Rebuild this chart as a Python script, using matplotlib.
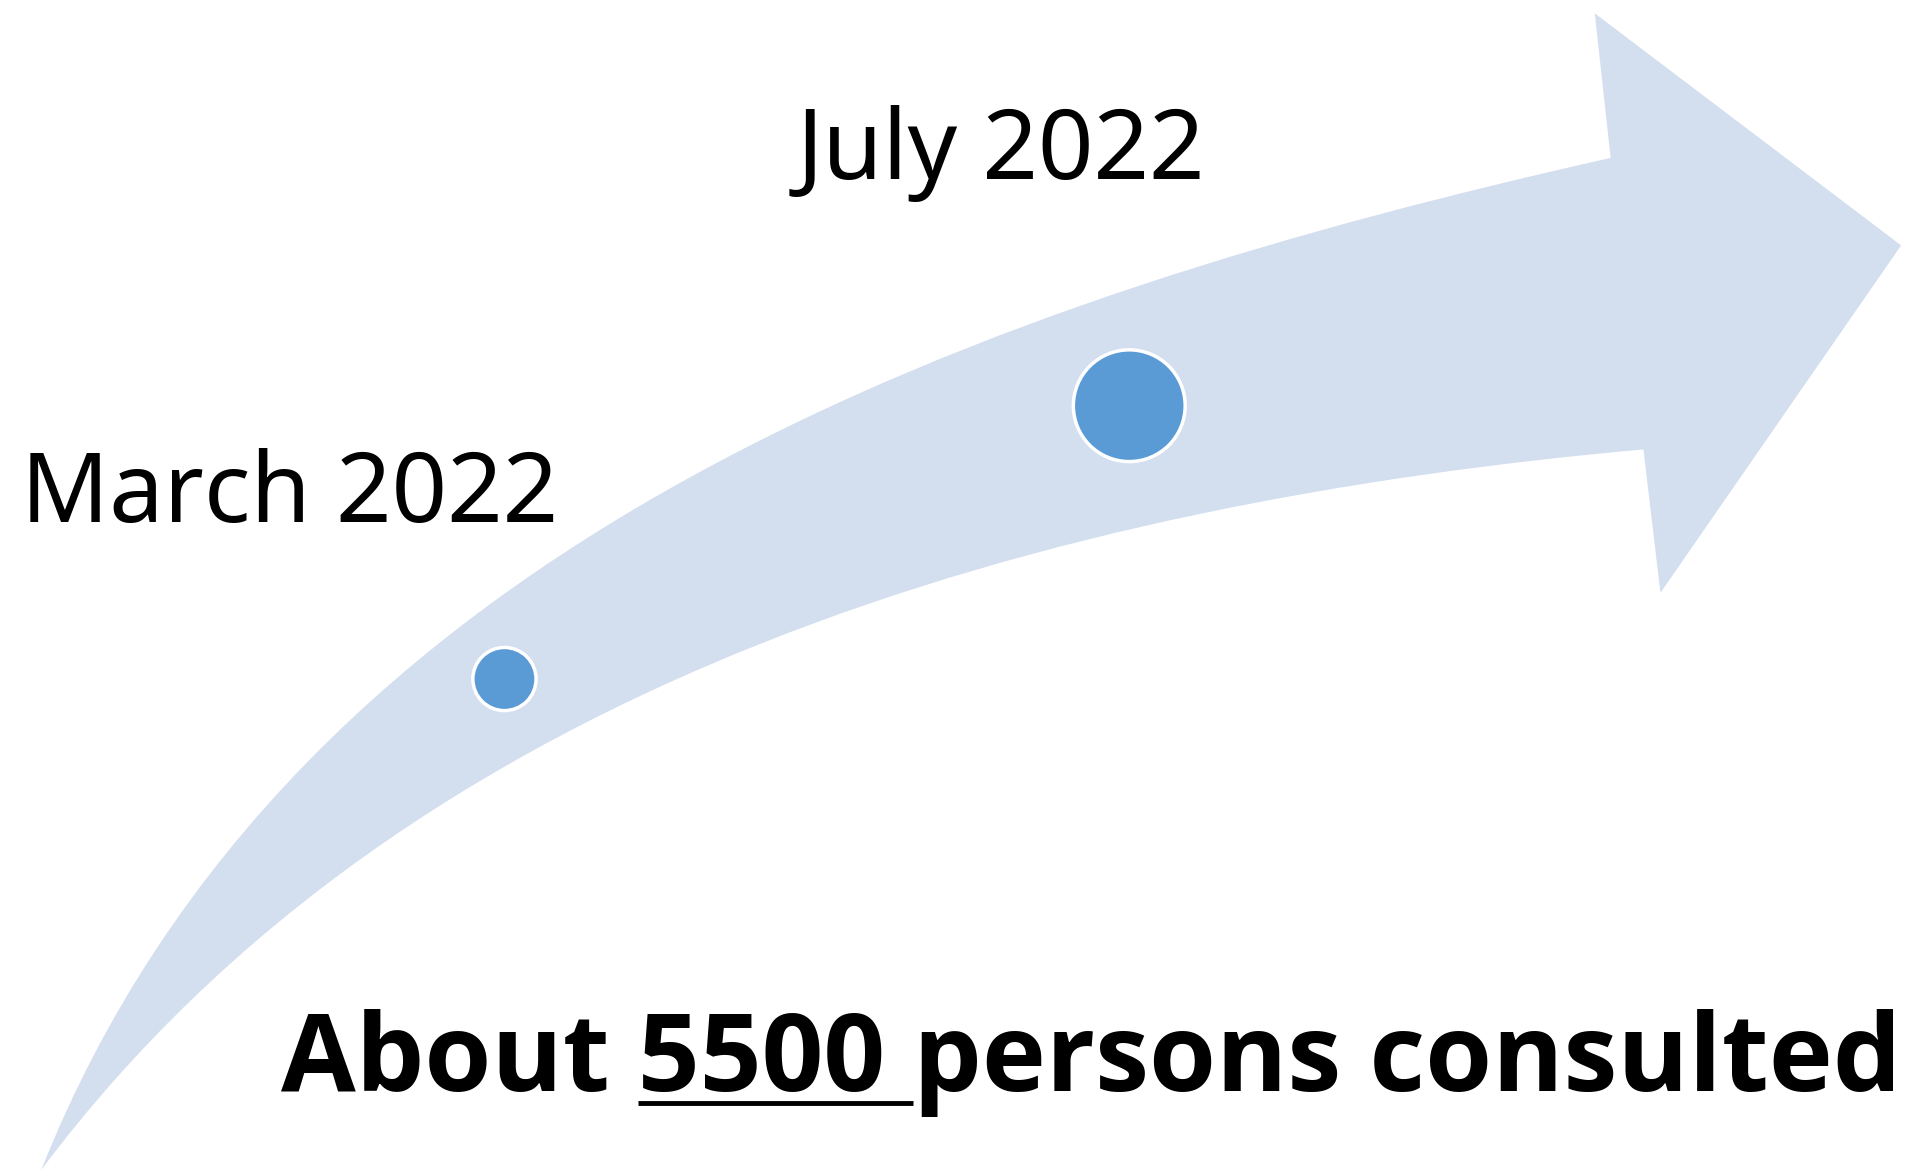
import numpy as np
import matplotlib
matplotlib.use("Agg")
import matplotlib.pyplot as plt
from matplotlib.path import Path
from matplotlib.patches import PathPatch, Circle

# content of the picture
events = ["March 2022", "July 2022"]
event_size = [26, 46]          # radius of the dots, canvas units
headline_pre = "About "
headline_num = "5500"
headline_post = " persons consulted"

# canvas units: the reference measured at 1568 x 964
W, H = 1568, 964

upper_edge = [(34, 963), (52, 921), (113, 810), (189, 705), (294, 586),
              (382, 511), (483, 440), (576, 384), (658, 343), (786, 296),
              (995, 219), (1205, 162), (1325, 130)]
lower_edge = [(34, 963), (151, 828), (235, 754), (298, 707), (420, 629),
              (500, 586), (609, 535), (723, 494), (943, 433), (1153, 395),
              (1352, 370)]
head = [(1312, 11), (1564, 202), (1366, 488)]

dot_pos = [(415, 559), (929, 334)]
label_pos = [(17, 430), (655, 147)]
headline_pos = (231, 898)

ARROW = "#D3DEEF"
DOT = "#5B9BD5"


def bezier_fit(points):
    """Least squares cubic bezier with fixed ends through the measured edge."""
    p = np.array(points, dtype=float)
    d = np.r_[0, np.cumsum(np.hypot(*np.diff(p, axis=0).T))]
    t = d / d[-1]
    b0, b1, b2, b3 = (1 - t) ** 3, 3 * t * (1 - t) ** 2, 3 * t ** 2 * (1 - t), t ** 3
    rhs = p - np.outer(b0, p[0]) - np.outer(b3, p[-1])
    A = np.c_[b1, b2]
    ctrl, *_ = np.linalg.lstsq(A, rhs, rcond=None)
    return [tuple(ctrl[0]), tuple(ctrl[1]), tuple(p[-1])]


lo = lower_edge[::-1]
verts = [upper_edge[0]] + bezier_fit(upper_edge) + head + [lo[0]] + bezier_fit(lo) + [upper_edge[0]]
codes = ([Path.MOVETO] + [Path.CURVE4] * 3 + [Path.LINETO] * (len(head) + 1)
         + [Path.CURVE4] * 3 + [Path.CLOSEPOLY])

fig = plt.figure(figsize=(19.06, 11.71), dpi=100)
ax = fig.add_axes([0, 0, 1, 1])
ax.set_xlim(0, W)
ax.set_ylim(H, 0)
ax.axis("off")

ax.add_patch(PathPatch(Path(verts, codes), facecolor=ARROW, edgecolor="none"))

for (x, y), r in zip(dot_pos, event_size):
    ax.add_patch(Circle((x, y), r, facecolor=DOT, edgecolor="white", lw=2.5, zorder=3))

for (x, y), lab in zip(label_pos, events):
    ax.text(x, y, lab, fontsize=70, family="Noto Sans", ha="left", va="baseline", color="black")

bold = dict(fontsize=78, family="Open Sans", weight="bold", ha="left", va="baseline", color="black")
hx, hy = headline_pos
ax.text(hx, hy, headline_pre + headline_num + headline_post, **bold)

# underline the number: measure the prefix widths in canvas units
fig.canvas.draw()
r = fig.canvas.get_renderer()
inv = ax.transData.inverted()


def width_of(s):
    t = ax.text(hx, hy, s, **bold)
    bb = t.get_window_extent(r)
    t.remove()
    x0 = inv.transform((bb.x0, bb.y0))[0]
    x1 = inv.transform((bb.x1, bb.y0))[0]
    return x1 - x0


space = width_of("A A") - width_of("AA")
u0 = hx + width_of(headline_pre.strip()) + space
u1 = hx + width_of(headline_pre + headline_num) + space
ax.plot([u0, u1], [hy + 10, hy + 10], color="black", lw=3.5, solid_capstyle="butt")

fig.savefig("out.png", dpi=100)
